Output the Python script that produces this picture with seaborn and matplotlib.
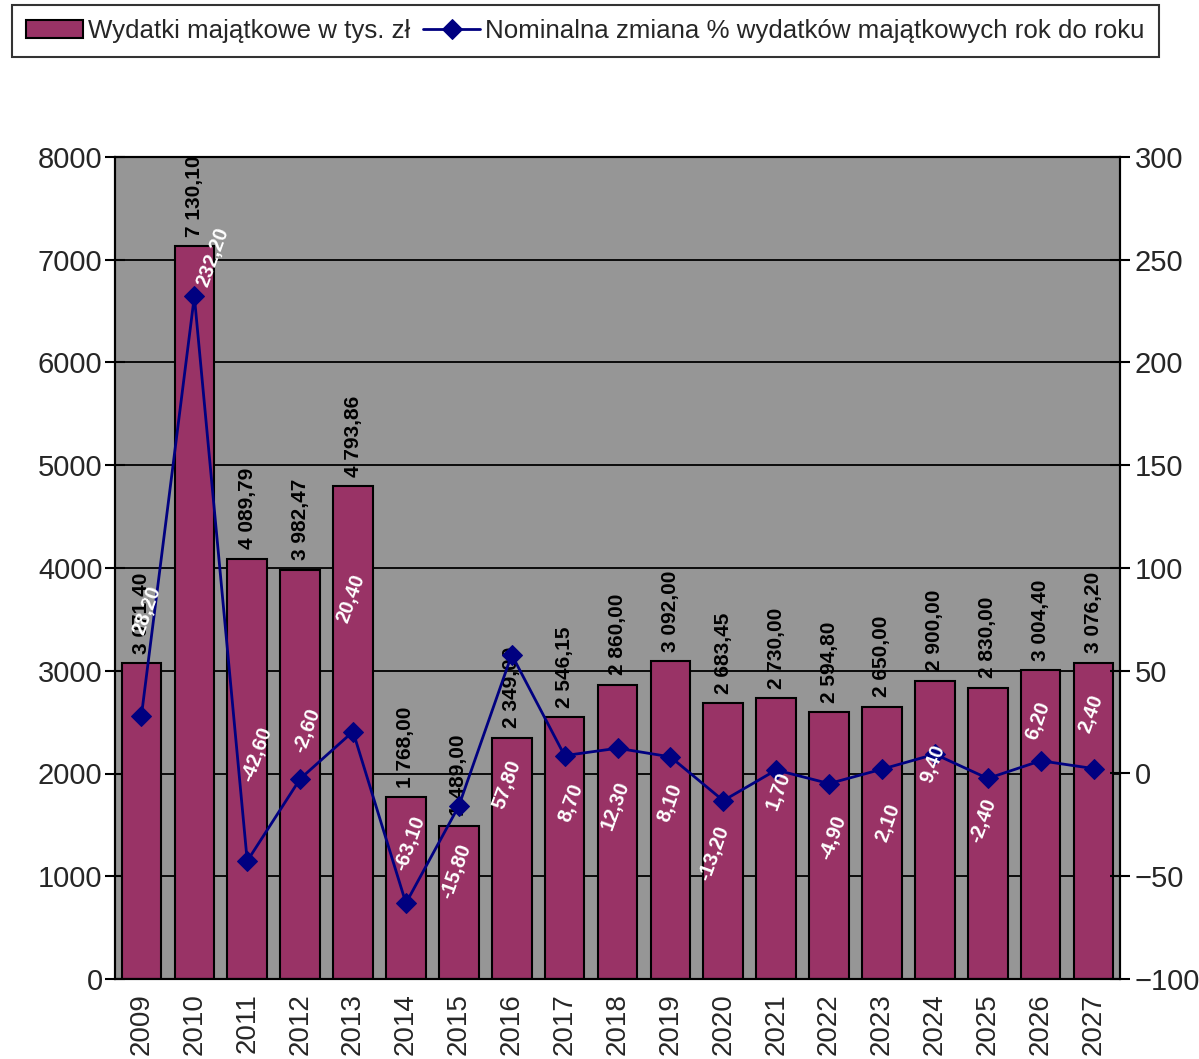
import numpy as np
import pandas as pd
import seaborn as sns
import matplotlib.pyplot as plt
from matplotlib.ticker import FixedLocator

# data
years = [str(y) for y in range(2009, 2028)]
spending = [3071.40, 7130.10, 4089.79, 3982.47, 4793.86, 1768.00, 1489.00, 2349.00,
            2546.15, 2860.00, 3092.00, 2683.45, 2730.00, 2594.80, 2650.00, 2900.00,
            2830.00, 3004.40, 3076.20]
change_pct = [28.20, 232.20, -42.60, -2.60, 20.40, -63.10, -15.80, 57.80, 8.70, 12.30,
              8.10, -13.20, 1.70, -4.90, 2.10, 9.40, -2.40, 6.20, 2.40]

bar_name = "Wydatki majątkowe w tys. zł"
line_name = "Nominalna zmiana % wydatków majątkowych rok do roku"

# label offsets for the % labels (pixels, as placed in the original)
pct_dx = [5, 18, 10, 7, -2, 4, -3, -5, 6, -2, 0, -9, 2, 4, 6, -2, -5, -3, -3]
pct_dy = [-105, -39, -107, -48, -133, -60, 65, 130, 47, 57, 46, 53, 21, 54, 54, 10, 42, -40, -55]

def fmt(v):
    s = f"{v:,.2f}".replace(",", " ").replace(".", ",")
    return s

df = pd.DataFrame({"rok": years, "wydatki": spending, "zmiana": change_pct})
df["pos"] = np.arange(len(df))

sns.set_style("white")
plt.rcParams["font.family"] = ["Liberation Sans", "DejaVu Sans"]

fig = plt.figure(figsize=(11.99, 10.59), dpi=100)
ax = fig.add_axes([115 / 1199, 80 / 1059, 1005 / 1199, 822 / 1059])
ax.set_facecolor("#969696")

sns.barplot(data=df, x="rok", y="wydatki", color="#993366", saturation=1,
            width=0.75, edgecolor="black", linewidth=1.5, ax=ax, label=bar_name)
ax.set_xlim(-0.5, len(df) - 0.5)
ax.set_ylim(0, 8000)
ax.set_yticks(range(0, 8001, 1000))
ax.yaxis.grid(True, color="black", linewidth=1.3)
ax.set_axisbelow(True)
ax.set_xlabel("")
ax.set_ylabel("")
ax.tick_params(axis="x", which="major", length=0, labelsize=20, labelrotation=90, pad=10)
ax.xaxis.set_minor_locator(FixedLocator(np.arange(-0.5, len(df), 1.0)))
ax.tick_params(axis="x", which="minor", length=14, width=1.5, direction="inout", color="black")
ax.tick_params(axis="y", length=14, width=1.5, direction="inout", labelsize=21, color="black", pad=2)
for sp in ax.spines.values():
    sp.set_color("black")
    sp.set_linewidth(1.5)

for x, v in zip(df["pos"], spending):
    ax.annotate(fmt(v), (x, v), xytext=(0, 7), textcoords="offset points",
                rotation=90, ha="center", va="bottom", fontsize=15,
                fontweight="bold", color="black")

ax2 = ax.twinx()
sns.lineplot(data=df, x="pos", y="zmiana", color="#000080", marker="D",
             markersize=10, markeredgecolor="#000080", linewidth=2, ax=ax2,
             label=line_name)
ax2.set_ylim(-100, 300)
ax2.set_yticks(range(-100, 301, 50))
ax2.set_xlim(-0.5, len(df) - 0.5)
ax2.set_ylabel("")
ax2.set_xlabel("")
ax2.tick_params(axis="y", length=14, width=1.5, direction="inout", labelsize=21, color="black")
for sp in ax2.spines.values():
    sp.set_color("black")
    sp.set_linewidth(1.5)

px2pt = 72 / 100
for x, v, dx, dy in zip(df["pos"], change_pct, pct_dx, pct_dy):
    ax2.annotate(fmt(v), (x, v), xytext=(dx * px2pt, -dy * px2pt), textcoords="offset points",
                 rotation=70, ha="center", va="center", fontsize=14.5,
                 fontweight="bold", color="white", rotation_mode="anchor")

h1, l1 = ax.get_legend_handles_labels()
h2, l2 = ax2.get_legend_handles_labels()
if ax.get_legend():
    ax.get_legend().remove()
if ax2.get_legend():
    ax2.get_legend().remove()
leg = fig.legend(h1 + h2, l1 + l2, loc="upper left", bbox_to_anchor=(12 / 1199, 1 - 5 / 1059),
                 ncol=2, fontsize=18.6, frameon=True, fancybox=False, edgecolor="black",
                 borderaxespad=0, handlelength=2.2, handletextpad=0.2, columnspacing=0.5,
                 borderpad=0.55)
leg.get_frame().set_linewidth(1.5)

fig.savefig("out.png", dpi=100)
